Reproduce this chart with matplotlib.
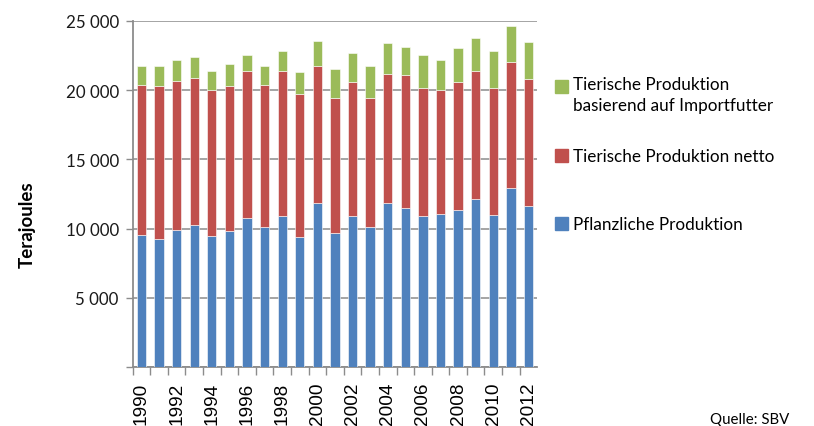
import matplotlib
matplotlib.use("Agg")
import matplotlib.pyplot as plt
from matplotlib.patches import Rectangle
import numpy as np

years = list(range(1990, 2013))
pflanzlich = [9560, 9270, 9920, 10240, 9450, 9850, 10790, 10120, 10890, 9420, 11870, 9660,
              10890, 10120, 11870, 11470, 10890, 11080, 11370, 12140, 11010, 12910, 11650]
tier_total = [20380, 20280, 20690, 20880, 20020, 20280, 21360, 20380, 21360, 19710, 21750, 19440,
              20590, 19440, 21170, 21080, 20120, 20020, 20590, 21360, 20120, 22040, 20790]
gesamt = [21750, 21750, 22140, 22420, 21360, 21850, 22520, 21750, 22810, 21290, 23510, 21490,
          22710, 21750, 23380, 23100, 22520, 22140, 23000, 23770, 22810, 24630, 23480]
tier_netto = [t - p for t, p in zip(tier_total, pflanzlich)]
import_futter = [g - t for g, t in zip(gesamt, tier_total)]

labels = ["Tierische Produktion\nbasierend auf Importfutter",
          "Tierische Produktion netto",
          "Pflanzliche Produktion"]
colors = ["#9BBB59", "#C0504D", "#4F81BD"]
yticks = [0, 5000, 10000, 15000, 20000, 25000]
ytick_labels = ["", "5 000", "10 000", "15 000", "20 000", "25 000"]

fig = plt.figure(figsize=(8.14, 4.27), dpi=100)
ax = fig.add_axes([0.163, 0.1375, 0.497, 0.8115])

x = np.arange(len(years))
w = 0.53
ax.bar(x, pflanzlich, w, color=colors[2], edgecolor="white", linewidth=0.4, zorder=3)
ax.bar(x, tier_netto, w, bottom=pflanzlich, color=colors[1], edgecolor="white", linewidth=0.4, zorder=3)
ax.bar(x, import_futter, w, bottom=tier_total, color=colors[0], edgecolor="white", linewidth=0.4, zorder=3)

ax.set_xlim(-0.5, len(years) - 0.5)
ax.set_ylim(0, 25000)
ax.set_yticks(yticks)
ax.set_yticklabels(ytick_labels, fontsize=12.2, family="Lato", color="#1a1a1a")
ax.yaxis.grid(True, color="#8c8c8c", linewidth=1.1, zorder=0)
ax.tick_params(axis="y", length=5, color="#8c8c8c", width=1, pad=5)

ax.set_xticks(x - 0.5, minor=False)
ax.set_xticklabels([])
ax.set_xticks(x, minor=True)
ax.set_xticklabels([str(y) if y % 2 == 0 else "" for y in years], minor=True,
                   rotation=90, fontsize=13.7, family="Liberation Sans")
ax.tick_params(axis="x", which="major", length=6, color="#8c8c8c", width=1)
ax.tick_params(axis="x", which="minor", length=0, pad=10.5)

for s in ["top", "right"]:
    ax.spines[s].set_visible(False)
for s in ["left", "bottom"]:
    ax.spines[s].set_color("#8c8c8c")
    ax.spines[s].set_linewidth(1.3)

fig.text(0.033, 0.473, "Terajoules", rotation=90, ha="center", va="center",
         fontsize=13.5, fontweight="bold", family="Lato")

# legend (manual, matching uneven spacing)
leg_y = [88, 157, 225]
for lab, col, yy in zip(labels, colors, leg_y):
    fy = 1 - yy / 427
    fig.patches.append(Rectangle((555 / 814, fy - 6 / 427), 13 / 814, 13 / 427,
                                 transform=fig.transFigure, color=col))
    fig.text(573 / 814, fy, lab, ha="left", va="top" if "\n" in lab else "center",
             fontsize=12.3, family="Lato", linespacing=1.35,
             position=(573 / 814, fy + (11 / 427 if "\n" in lab else 0)))

fig.text(750 / 814, 1 - 420 / 427, "Quelle: SBV", ha="center", va="center",
         fontsize=10.8, family="Lato")

fig.savefig("out.png", dpi=100)
